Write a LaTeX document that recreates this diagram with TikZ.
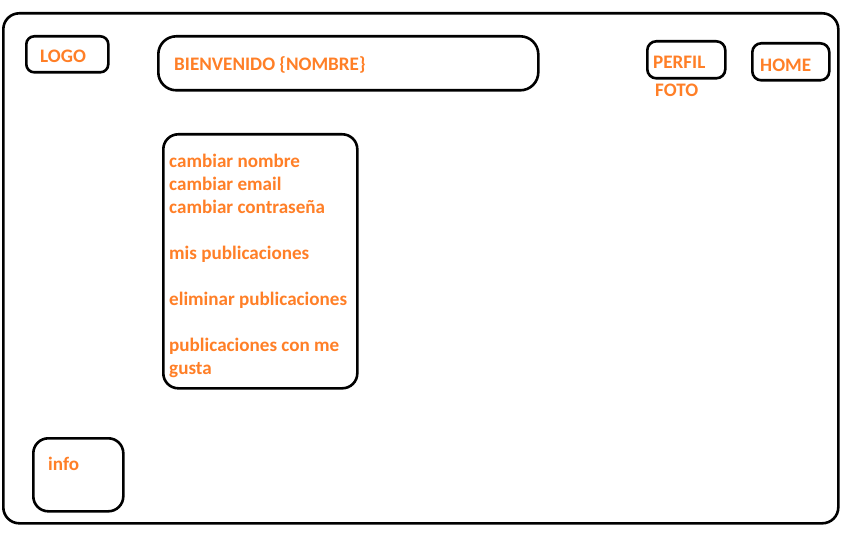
\documentclass[tikz,border=0pt]{standalone}
\usepackage{fontspec}
\setmainfont{Carlito}
\definecolor{paintorange}{RGB}{255,127,39}
\begin{document}
\begin{tikzpicture}[x=1pt,y=-1pt,
  box/.style={draw=black,line width=2.6pt,rounded corners=#1,anchor=north west,inner sep=0pt},
  box/.default=9pt,
  lbl/.style={text=paintorange,font=\fontsize{19.1}{23}\selectfont\bfseries,anchor=base west,inner sep=0pt}]
\useasboundingbox[fill=white] (0,0) rectangle (853,534);
% outer frame
\node[box=16pt,minimum width=835pt,minimum height=510pt] (frame) at (2,12) {};
% logo
\node[box=8pt,minimum width=82pt,minimum height=36pt] (logobox) at (25,35) {};
\node[lbl] (logo) at (40,62.5) {LOGO};
% welcome
\node[box=18pt,minimum width=380pt,minimum height=54pt] (welcomebox) at (157,35) {};
\node[lbl] (welcome) at (174,70.5) {BIENVENIDO \{NOMBRE\}};
% perfil
\node[box=9pt,minimum width=78pt,minimum height=37pt] (perfilbox) at (646,40) {};
\node[lbl] (perfil) at (653,68.5) {PERFIL};
\node[lbl] (foto) at (655,96.5) {FOTO};
% home
\node[box=9pt,minimum width=77pt,minimum height=37pt] (homebox) at (751,42) {};
\node[lbl] (home) at (760,71.5) {HOME};
% menu
\node[box=15pt,minimum width=194pt,minimum height=254pt] (menubox) at (162,133) {};
\node[lbl] (m1) at (169,167.5) {cambiar nombre};
\node[lbl] (m2) at (169,190.5) {cambiar email};
\node[lbl] (m3) at (169,213.5) {cambiar contraseña};
\node[lbl] (m4) at (169,259.5) {mis publicaciones};
\node[lbl] (m5) at (169,305.5) {eliminar publicaciones};
\node[lbl] (m6) at (169,351.5) {publicaciones con me};
\node[lbl] (m7) at (169,374.5) {gusta};
% info
\node[box=15pt,minimum width=90pt,minimum height=73pt] (infobox) at (32,437) {};
\node[lbl] (info) at (48,470.5) {info};
\end{tikzpicture}
\end{document}
